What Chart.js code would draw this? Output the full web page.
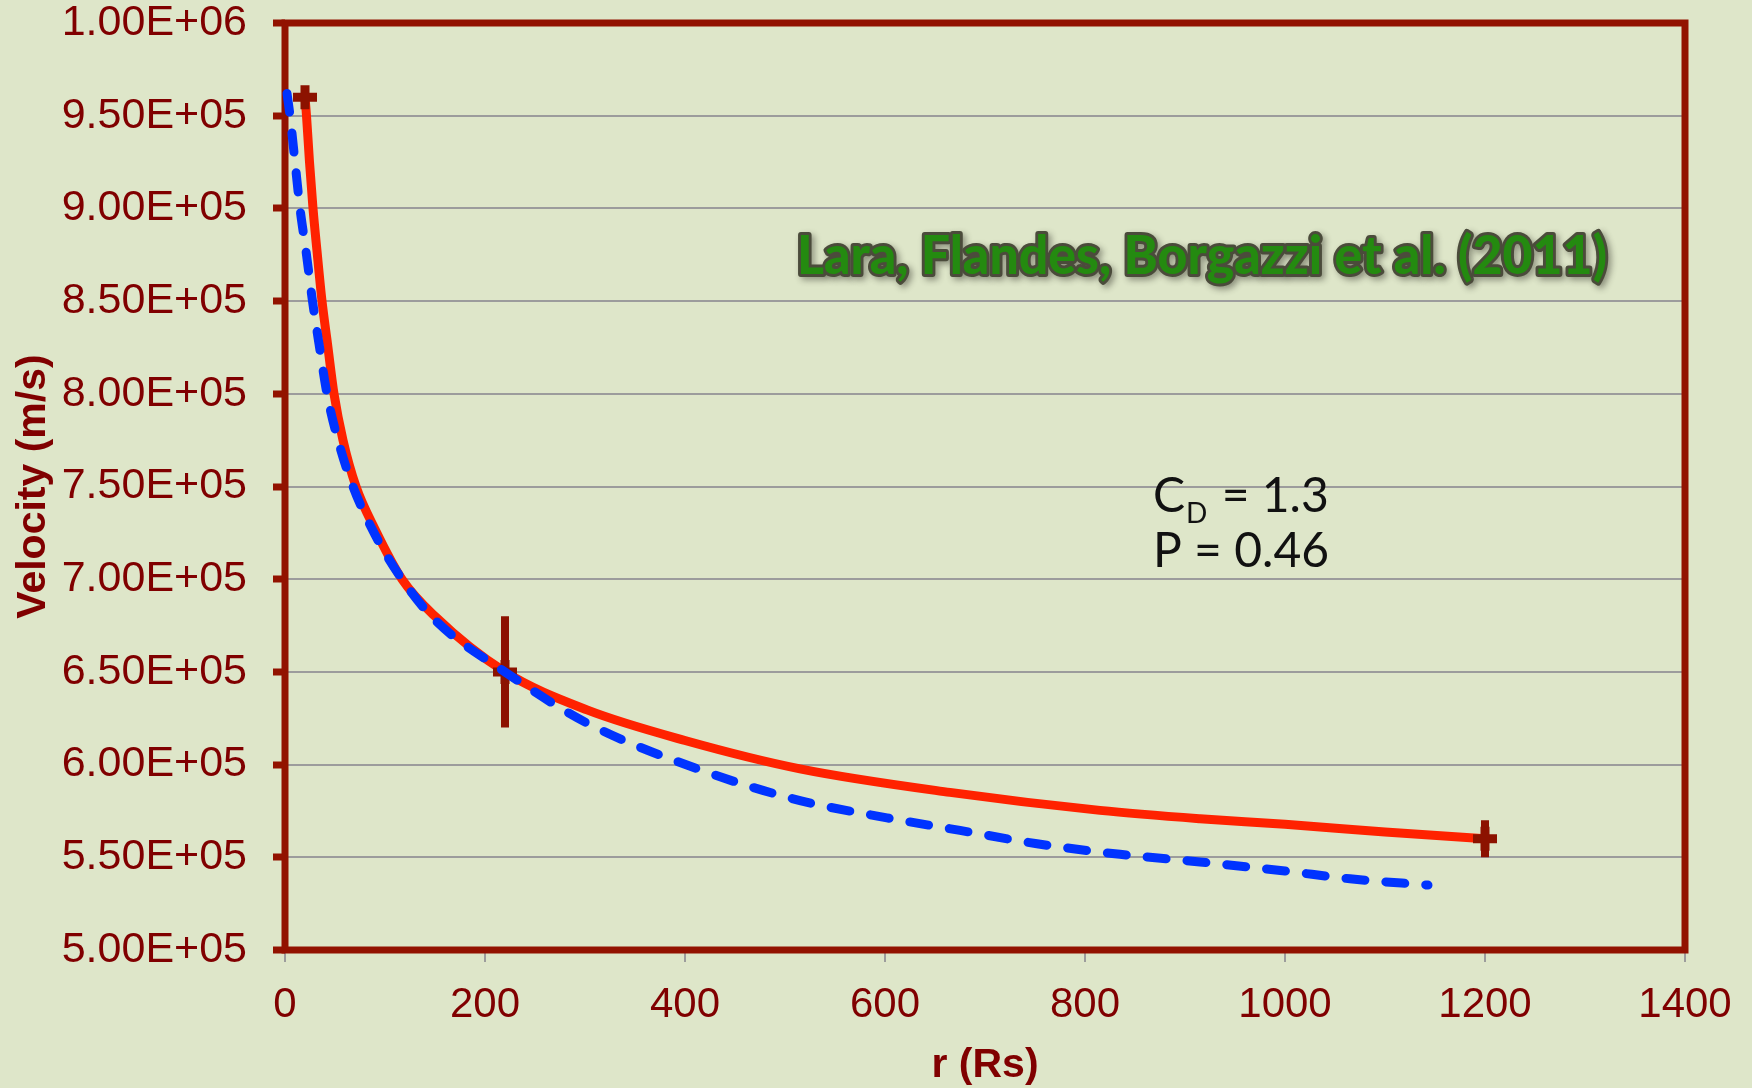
<!DOCTYPE html>
<html>
<head>
<meta charset="utf-8">
<title>CME velocity vs distance</title>
<script src="https://cdn.jsdelivr.net/npm/chart.js@4.4.1/dist/chart.umd.min.js"></script>
<style>
  html, body { margin: 0; padding: 0; background: #dee6c9; overflow: hidden; }
  #wrap { width: 1752px; height: 1088px; }
</style>
</head>
<body>
<div id="wrap"><canvas id="vel" width="1752" height="1088"></canvas></div>
<script>
// drag model fit (solid red)
var fitR = [20, 21.5, 24.5, 28, 32, 37, 42.5, 49, 58, 71, 90, 117, 150, 220, 302, 400, 515, 665, 815, 915, 1000, 1100, 1200];
var fitV = [960000, 950000, 925000, 900000, 877000, 850000, 827000, 800000, 775000, 750000, 727000, 700000,
            680000, 650000, 629500, 613000, 597700, 585000, 575300, 570800, 567800, 563600, 560000];

// Lara et al. model (dashed blue)
var laraR = [2, 5, 10, 15, 21, 27.5, 34, 42, 53, 68, 90, 117, 150, 220, 302, 415, 515, 602, 675, 752, 835, 915, 1000, 1065, 1143];
var laraV = [962000, 950000, 925000, 900000, 877000, 850000, 827000, 800000, 775000, 750000, 724000, 700000,
             678000, 650000, 622400, 597200, 580600, 571300, 564500, 557300, 551600, 547500, 542600, 538400, 535000];

// observed points with their uncertainty
var obsR = [20, 220, 1200];
var obsV = [960000, 650000, 560000];
var obsErr = [0, 30000, 10000];

var xTicks = { min: 0, max: 1400, step: 200 };
var yTicks = { min: 500000, max: 1000000, step: 50000 };

var citeText = 'Lara, Flandes, Borgazzi et al. (2011)';
var citeFrom = [512, 864600];   // left end of the baseline, data units
var citeTo = 1322;              // right end on the r axis
var coefText = ['C', 'D', ' = 1.3'];
var coefAt = [868, 736200];
var pText = 'P = 0.46';
var pAt = [868, 706600];

var DARK = '#800000';
var FRAME = '#921200';
var MARK = '#8c1200';
var axisFont = '"Liberation Sans", Arial, sans-serif';
var noteFont = 'Lato, "Open Sans", sans-serif';

function sci(v) {
  var e = Math.floor(Math.log10(v) + 1e-9);
  var m = v / Math.pow(10, e);
  return m.toFixed(2) + 'E+' + String(e).padStart(2, '0');
}

function pts(xs, ys) {
  return xs.map(function (r, i) { return { x: r, y: ys[i] }; });
}

// vertical error bars as one line dataset broken by gaps
var errSegs = [];
obsR.forEach(function (r, i) {
  if (!obsErr[i]) return;
  errSegs.push({ x: r, y: obsV[i] - obsErr[i] }, { x: r, y: obsV[i] + obsErr[i] }, { x: r, y: null });
});

var bgPlugin = {
  id: 'bg',
  beforeDraw: function (chart) {
    var ctx = chart.ctx;
    ctx.save();
    ctx.fillStyle = '#dee6c9';
    ctx.fillRect(0, 0, chart.width, chart.height);
    ctx.restore();
  }
};

var framePlugin = {
  id: 'frame',
  beforeDatasetsDraw: function (chart) {
    var a = chart.chartArea, ctx = chart.ctx;
    ctx.save();
    ctx.strokeStyle = FRAME;
    ctx.lineWidth = 7;
    ctx.strokeRect(a.left, a.top, a.right - a.left, a.bottom - a.top);
    ctx.restore();
  }
};

var notesPlugin = {
  id: 'notes',
  afterDatasetsDraw: function (chart) {
    var ctx = chart.ctx, x = chart.scales.x, y = chart.scales.y;
    ctx.save();
    ctx.textBaseline = 'alphabetic';
    ctx.textAlign = 'left';

    // citation: heavy green with a dark rim and soft shadow
    var cx = x.getPixelForValue(citeFrom[0]);
    var cy = y.getPixelForValue(citeFrom[1]);
    var want = x.getPixelForValue(citeTo) - cx;
    ctx.font = '900 54px ' + noteFont;
    var w = ctx.measureText(citeText).width;
    ctx.save();
    ctx.translate(cx, cy);
    ctx.scale(want / w, 1);
    ctx.lineJoin = 'round';
    ctx.shadowColor = 'rgba(40,40,30,0.45)';
    ctx.shadowBlur = 6;
    ctx.shadowOffsetX = 3;
    ctx.shadowOffsetY = 3;
    ctx.lineWidth = 6;
    ctx.strokeStyle = '#4b4b3b';
    ctx.strokeText(citeText, 0, 0);
    ctx.shadowColor = 'transparent';
    ctx.fillStyle = '#248a10';
    ctx.fillText(citeText, 0, 0);
    ctx.restore();

    // fit parameters
    ctx.fillStyle = '#111111';
    var px = x.getPixelForValue(coefAt[0]);
    var py = y.getPixelForValue(coefAt[1]);
    ctx.font = '48px ' + noteFont;
    ctx.fillText(coefText[0], px, py);
    px += ctx.measureText(coefText[0]).width + 1;
    ctx.font = '28px ' + noteFont;
    ctx.fillText(coefText[1], px, py + 11);
    px += ctx.measureText(coefText[1]).width + 2;
    ctx.font = '48px ' + noteFont;
    ctx.fillText(coefText[2], px, py);
    ctx.fillText(pText, x.getPixelForValue(pAt[0]), y.getPixelForValue(pAt[1]));
    ctx.restore();
  }
};

new Chart(document.getElementById('vel'), {
  type: 'line',
  data: {
    datasets: [
      {
        label: 'Lara et al.',
        data: pts(laraR, laraV),
        borderColor: '#0033ff',
        borderWidth: 9,
        borderDash: [19, 21],
        borderCapStyle: 'round',
        pointRadius: 0,
        cubicInterpolationMode: 'monotone',
        clip: false,
        order: 0
      },
      {
        label: 'observed',
        data: pts(obsR, obsV),
        showLine: false,
        pointStyle: 'cross',
        pointRadius: 12,
        pointBorderWidth: 9,
        pointBorderColor: MARK,
        pointBackgroundColor: MARK,
        clip: false,
        order: 1
      },
      {
        label: 'error',
        data: errSegs,
        borderColor: MARK,
        borderWidth: 8,
        pointRadius: 0,
        spanGaps: false,
        order: 2
      },
      {
        label: 'fit',
        data: pts(fitR, fitV),
        borderColor: '#ff2200',
        borderWidth: 9,
        pointRadius: 0,
        cubicInterpolationMode: 'monotone',
        order: 3
      }
    ]
  },
  options: {
    responsive: false,
    animation: false,
    events: [],
    layout: { padding: { top: 23, right: 67, left: 0, bottom: 0 } },
    plugins: { legend: { display: false }, tooltip: { enabled: false } },
    scales: {
      x: {
        type: 'linear',
        min: xTicks.min,
        max: xTicks.max,
        ticks: {
          stepSize: xTicks.step,
          autoSkip: false,
          maxRotation: 0,
          color: DARK,
          padding: 22,
          font: { family: axisFont, size: 42, lineHeight: 1 },
          callback: function (v) { return String(v); }
        },
        grid: { drawOnChartArea: false, color: '#9c9c9c', lineWidth: 2, tickLength: 12 },
        border: { display: false },
        title: {
          display: true,
          text: 'r (Rs)',
          color: DARK,
          padding: { top: 0, bottom: 2 },
          font: { family: axisFont, size: 41, weight: 'bold', lineHeight: 1 }
        },
        afterFit: function (s) {
          s.height = 138;
          s.paddingLeft = 0;
          s.paddingRight = 0;
        }
      },
      y: {
        type: 'linear',
        min: yTicks.min,
        max: yTicks.max,
        ticks: {
          stepSize: yTicks.step,
          color: DARK,
          padding: 26,
          font: { family: axisFont, size: 43, lineHeight: 1 },
          callback: sci
        },
        grid: { color: '#9c9c9c', lineWidth: 2, tickColor: FRAME, tickWidth: 7, tickLength: 12 },
        border: { display: false },
        title: {
          display: true,
          text: 'Velocity (m/s)',
          color: DARK,
          padding: { top: 13, bottom: 0 },
          font: { family: axisFont, size: 41, weight: 'bold', lineHeight: 1 }
        },
        afterFit: function (s) {
          s.width = 285;
          s.paddingTop = 0;
          s.paddingBottom = 0;
        }
      }
    }
  },
  plugins: [bgPlugin, framePlugin, notesPlugin]
});
</script>
</body>
</html>
